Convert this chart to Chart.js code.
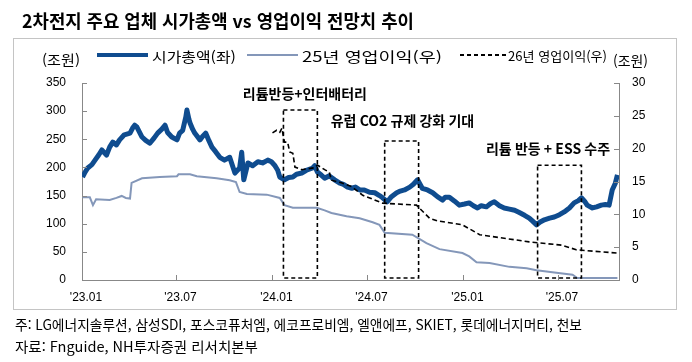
<!DOCTYPE html>
<html lang="ko">
<head>
<meta charset="utf-8">
<script src="https://cdn.jsdelivr.net/npm/chart.js@4.4.1/dist/chart.umd.min.js"></script>
<style>
  html, body { margin: 0; padding: 0; background: #fff; }
  #wrap { position: relative; width: 692px; height: 362px; overflow: hidden;
          font-family: 'Noto Sans CJK KR', 'Noto Sans', sans-serif; color: #000; }
  #frame { position: absolute; left: 13px; top: 38px; width: 664px; height: 272px;
           border: 1px solid #c4c4c4; box-sizing: border-box; }
  #chart { position: absolute; left: 0; top: 0; }
  .t { position: absolute; white-space: nowrap; line-height: 1; transform-origin: 0 50%; }
  .sw { position: absolute; }
</style>
</head>
<body>
<div id="wrap">
  <div id="frame"></div>
  <canvas id="chart" width="692" height="362"></canvas>

  <div class="t" data-x="22" data-y="20" data-w="392" style="font-size:18px;font-weight:700">2차전지 주요 업체 시가총액 vs 영업이익 전망치 추이</div>

  <div class="t" data-x="42" data-y="59" data-w="38" style="font-size:14px">(조원)</div>
  <div class="sw" style="left:97px;top:53px;width:51px;height:4px;background:#0f4c8f"></div>
  <div class="t" data-x="152" data-y="56" data-w="84" style="font-size:14px">시가총액(좌)</div>
  <div class="sw" style="left:247px;top:54px;width:51px;height:2px;background:#8497b9"></div>
  <div class="t" data-x="302" data-y="56" data-w="140" style="font-size:14px">25년 영업이익(우)</div>
  <div class="sw" style="left:460px;top:54px;width:47px;height:2px;background:repeating-linear-gradient(90deg,#000 0 4px,transparent 4px 7px)"></div>
  <div class="t" data-x="508" data-y="55" data-w="99" style="font-size:13px">26년 영업이익(우)</div>
  <div class="t" data-x="613" data-y="60" data-w="35" style="font-size:14px">(조원)</div>

  <div class="t" data-x="15" data-y="324" data-w="567" style="font-size:14px">주: LG에너지솔루션, 삼성SDI, 포스코퓨처엠, 에코프로비엠, 엘앤에프, SKIET, 롯데에너지머티, 천보</div>
  <div class="t" data-x="15" data-y="346" data-w="243" style="font-size:14px">자료: Fnguide, NH투자증권 리서치본부</div>
</div>

<script>
// 시가총액(좌, 조원)
const capDates = [
  '2023-01-02','2023-01-06','2023-01-12','2023-01-20','2023-01-26','2023-02-02','2023-02-08','2023-02-17',
  '2023-02-23','2023-03-01','2023-03-08','2023-03-14','2023-03-23','2023-04-03','2023-04-08','2023-04-12',
  '2023-04-16','2023-04-26','2023-05-03','2023-05-11','2023-05-19','2023-05-26','2023-06-03','2023-06-09',
  '2023-06-14','2023-06-22','2023-07-02','2023-07-07','2023-07-13','2023-07-19','2023-07-21','2023-07-25',
  '2023-07-27','2023-08-01','2023-08-05','2023-08-15','2023-08-20','2023-08-26','2023-09-01','2023-09-07',
  '2023-09-14','2023-09-22','2023-10-01','2023-10-11','2023-10-21','2023-10-30','2023-11-03','2023-11-07',
  '2023-11-15','2023-11-24','2023-12-04','2023-12-13','2023-12-23','2023-12-30','2024-01-05','2024-01-11',
  '2024-01-15','2024-01-24','2024-02-01','2024-02-09','2024-02-16','2024-02-26','2024-03-06','2024-03-18',
  '2024-03-22','2024-03-27','2024-04-04','2024-04-10','2024-04-19','2024-04-29','2024-05-09','2024-05-16',
  '2024-05-24','2024-06-01','2024-06-08','2024-06-16','2024-06-25','2024-07-05','2024-07-15','2024-07-24',
  '2024-07-30','2024-08-08','2024-08-16','2024-08-26','2024-09-02','2024-09-10','2024-09-20','2024-09-27',
  '2024-10-05','2024-10-14','2024-10-24','2024-11-03','2024-11-12','2024-11-22','2024-11-27','2024-12-05',
  '2024-12-15','2024-12-24','2025-01-03','2025-01-12','2025-01-20','2025-01-28','2025-02-04','2025-02-14',
  '2025-02-22','2025-03-01','2025-03-11','2025-03-20','2025-03-30','2025-04-09','2025-04-18','2025-04-28',
  '2025-05-07','2025-05-13','2025-05-21','2025-05-28','2025-06-05','2025-06-15','2025-06-24','2025-07-04',
  '2025-07-13','2025-07-23','2025-08-01','2025-08-09','2025-08-15','2025-08-21','2025-08-26','2025-09-05',
  '2025-09-13','2025-09-22','2025-09-30','2025-10-07','2025-10-13','2025-10-19','2025-10-23'
];
const capValues = [
  183, 190, 199, 205, 213, 222, 231, 222,
  236, 245, 240, 249, 258, 261, 270, 275,
  272, 254, 248, 243, 252, 261, 268, 275,
  262, 254, 249, 261, 266, 290, 302, 285,
  279, 268, 261, 249, 255, 261, 248, 236,
  228, 218, 213, 218, 190, 199, 227, 178,
  208, 203, 210, 208, 213, 210, 204, 195,
  183, 178, 182, 183, 188, 190, 195, 199,
  203, 192, 186, 181, 185, 178, 172, 170,
  165, 163, 165, 160, 160, 156, 155, 150,
  146, 139, 148, 155, 158, 160, 165, 170,
  178, 163, 160, 155, 148, 142, 147, 147,
  140, 133, 135, 137, 132, 128, 132, 130,
  136, 139, 132, 128, 126, 124, 120, 115,
  110, 105, 98, 103, 107, 110, 112, 116,
  121, 128, 137, 141, 146, 140, 133, 128,
  130, 133, 134, 133, 160, 172, 187
];

// 25년 영업이익 전망치(우, 조원)
const op25Dates = [
  '2023-01-02','2023-01-16','2023-01-22','2023-01-28','2023-02-23','2023-03-08','2023-03-18','2023-03-26',
  '2023-04-03','2023-04-06','2023-04-26','2023-05-30','2023-07-02','2023-07-05','2023-07-27','2023-08-09',
  '2023-09-16','2023-10-11','2023-10-23','2023-10-30','2023-11-13','2023-12-21','2024-01-15','2024-01-24',
  '2024-02-09','2024-03-26','2024-04-10','2024-04-23','2024-05-22','2024-06-16','2024-07-11','2024-07-24',
  '2024-08-03','2024-09-25','2024-10-22','2024-11-16','2024-12-30','2025-01-12','2025-01-26','2025-02-20',
  '2025-03-30','2025-05-02','2025-05-21','2025-06-28','2025-07-29','2025-08-07','2025-10-23'
];
const op25Values = [
  12.6, 12.6, 11.4, 12.3, 12.2, 12.5, 12.8, 12.5,
  12.4, 14.8, 15.5, 15.7, 15.8, 16.1, 16.1, 15.8,
  15.5, 15.2, 14.9, 13.4, 13.1, 13.0, 12.5, 11.4,
  11.0, 11.0, 10.6, 10.2, 9.7, 9.4, 8.8, 8.4,
  7.2, 6.9, 5.6, 4.7, 4.1, 3.6, 2.7, 2.6,
  2.0, 1.8, 1.5, 1.1, 0.8, 0.3, 0.3
];

// 26년 영업이익 전망치(우, 조원)
const op26Dates = [
  '2024-01-01','2024-01-09','2024-01-15','2024-01-19','2024-01-24','2024-01-30','2024-02-03','2024-02-09',
  '2024-02-13','2024-02-26','2024-03-22','2024-03-27','2024-04-10','2024-04-19','2024-04-23','2024-05-12',
  '2024-06-01','2024-06-22','2024-07-30','2024-10-03','2024-10-28','2024-11-12','2024-12-30','2025-02-01',
  '2025-05-07','2025-07-09','2025-08-05','2025-10-23'
];
const op26Values = [
  22.4, 22.8, 22.5, 23.1, 21.0, 21.0, 19.5, 19.3,
  17.2, 16.8, 17.1, 17.5, 16.8, 16.4, 15.2, 14.8,
  14.2, 12.9, 11.7, 11.4, 9.4, 9.0, 8.4, 6.9,
  5.8, 5.3, 4.6, 4.1
];

const tickDates = ['2023-01-01', '2023-07-01', '2024-01-01', '2024-07-01', '2025-01-01', '2025-07-01'];
const tickLabels = ["'23.01", "'23.07", "'24.01", "'24.07", "'25.01", "'25.07"];
const axisEnd = '2025-10-26';

// 이벤트 구간 (시작, 끝, 박스 상단 값(좌))
const eventLabels = ['리튬반등+인터배터리', '유럽 CO2 규제 강화 기대', '리튬 반등 + ESS 수주'];
const eventStarts = ['2024-01-22', '2024-08-03', '2025-05-23'];
const eventEnds = ['2024-03-27', '2024-10-07', '2025-08-15'];
const eventTops = [302, 247, 204];
// 문구 위치 (날짜, 좌축 값)
const eventLabelDates = ['2024-03-03', '2024-09-06', '2025-06-12'];
const eventLabelValues = [331, 283, 234];

const AXIS_COLOR = '#888888';
const TICK_FONT = { family: "'Liberation Sans', Arial, sans-serif", size: 12 };

function dayOf(s) {
  const [y, m, d] = s.split('-').map(Number);
  return (Date.UTC(y, m - 1, d) - Date.UTC(2023, 0, 1)) / 86400000;
}
const toPoints = (dates, values) => dates.map((d, i) => ({ x: dayOf(d), y: values[i] }));

// 안쪽 눈금
const innerTicks = {
  id: 'innerTicks',
  afterDatasetsDraw(chart) {
    const { ctx, chartArea: a, scales } = chart;
    ctx.save();
    ctx.strokeStyle = AXIS_COLOR;
    ctx.lineWidth = 1;
    ctx.beginPath();
    scales.y.ticks.forEach(t => {
      const py = Math.round(scales.y.getPixelForValue(t.value)) + 0.5;
      ctx.moveTo(a.left, py); ctx.lineTo(a.left + 5, py);
    });
    scales.y1.ticks.forEach(t => {
      const py = Math.round(scales.y1.getPixelForValue(t.value)) + 0.5;
      ctx.moveTo(a.right, py); ctx.lineTo(a.right - 5, py);
    });
    scales.x.ticks.forEach(t => {
      const px = Math.round(scales.x.getPixelForValue(t.value)) + 0.5;
      ctx.moveTo(px, a.bottom); ctx.lineTo(px, a.bottom - 5);
    });
    ctx.stroke();
    ctx.restore();
  }
};

// 이벤트 박스와 문구
const eventBoxes = {
  id: 'eventBoxes',
  afterDatasetsDraw(chart) {
    const { ctx, chartArea: a, scales: { x, y } } = chart;
    ctx.save();
    ctx.strokeStyle = '#000';
    ctx.lineWidth = 1.6;
    ctx.setLineDash([4, 3]);
    eventLabels.forEach((label, i) => {
      const x0 = x.getPixelForValue(dayOf(eventStarts[i]));
      const x1 = x.getPixelForValue(dayOf(eventEnds[i]));
      const y0 = y.getPixelForValue(eventTops[i]);
      ctx.strokeRect(x0, y0, x1 - x0, a.bottom - 2 - y0);
    });
    ctx.setLineDash([]);
    ctx.fillStyle = '#000';
    ctx.font = "bold 14px 'Noto Sans CJK KR', sans-serif";
    ctx.textAlign = 'center';
    ctx.textBaseline = 'middle';
    eventLabels.forEach((label, i) => {
      ctx.fillText(label, x.getPixelForValue(dayOf(eventLabelDates[i])), y.getPixelForValue(eventLabelValues[i]));
    });
    ctx.restore();
  }
};

new Chart(document.getElementById('chart'), {
  type: 'line',
  data: {
    datasets: [
      {
        label: '26년 영업이익(우)',
        data: toPoints(op26Dates, op26Values),
        yAxisID: 'y1',
        borderColor: '#000',
        borderWidth: 1.6,
        borderDash: [5, 3],
        pointRadius: 0,
        order: 0,
      },
      {
        label: '시가총액(좌)',
        data: toPoints(capDates, capValues),
        yAxisID: 'y',
        borderColor: '#0f4c8f',
        borderWidth: 5,
        borderJoinStyle: 'round',
        pointRadius: 0,
        order: 1,
      },
      {
        label: '25년 영업이익(우)',
        data: toPoints(op25Dates, op25Values),
        yAxisID: 'y1',
        borderColor: '#8497b9',
        borderWidth: 2,
        pointRadius: 0,
        order: 2,
      },
    ],
  },
  options: {
    responsive: false,
    animation: false,
    devicePixelRatio: 1,
    layout: { padding: { top: 83, left: 0, right: 0, bottom: 0 } },
    plugins: { legend: { display: false }, tooltip: { enabled: false } },
    scales: {
      x: {
        type: 'linear',
        min: 0,
        max: dayOf(axisEnd),
        afterBuildTicks: s => { s.ticks = tickDates.map(d => ({ value: dayOf(d) })); },
        afterFit: s => { s.height = 82; },
        grid: { display: false, drawTicks: false },
        border: { display: true, color: AXIS_COLOR },
        ticks: {
          autoSkip: false, maxRotation: 0, padding: 10, labelOffset: 4,
          color: '#000', font: TICK_FONT,
          callback: (v, i) => tickLabels[i],
        },
      },
      y: {
        position: 'left',
        min: 0, max: 350,
        afterFit: s => { s.width = 82; },
        grid: { display: false, drawTicks: false },
        border: { display: true, color: AXIS_COLOR },
        ticks: { stepSize: 50, padding: 16, color: '#000', font: TICK_FONT },
      },
      y1: {
        position: 'right',
        min: 0, max: 30,
        afterFit: s => { s.width = 73; },
        grid: { display: false, drawTicks: false },
        border: { display: true, color: AXIS_COLOR },
        ticks: { stepSize: 5, padding: 13, color: '#000', font: TICK_FONT },
      },
    },
  },
  plugins: [innerTicks, eventBoxes],
});

// HTML 문구 위치/폭 맞춤
document.querySelectorAll('.t').forEach(el => {
  const fs = parseFloat(el.style.fontSize);
  el.style.left = el.dataset.x + 'px';
  el.style.top = (el.dataset.y - fs / 2) + 'px';
  const w = el.getBoundingClientRect().width;
  el.style.transform = 'scaleX(' + (el.dataset.w / w) + ')';
});
</script>
</body>
</html>
